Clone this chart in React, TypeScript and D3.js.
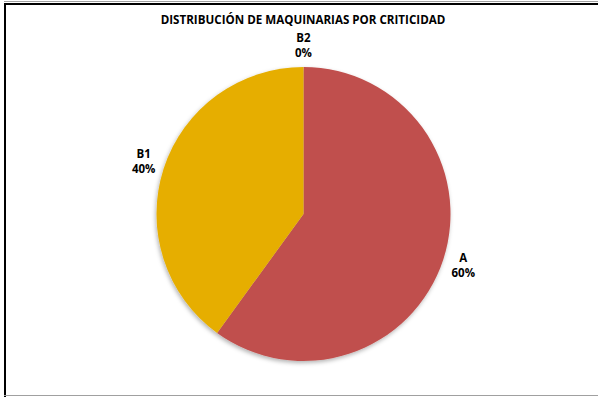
import { useEffect, useRef } from 'react';
import * as d3 from 'd3';

const categories = ['A', 'B1', 'B2'];
const values = [60, 40, 0];
const percentLabels = ['60%', '40%', '0%'];
const colors = ['#C0504D', '#E6AE00', '#9BBB59'];

const title = 'DISTRIBUCIÓN DE MAQUINARIAS POR CRITICIDAD';

export default function App() {
  const svgRef = useRef<SVGSVGElement>(null);

  useEffect(() => {
    if (!svgRef.current) return;
    const width = 598;
    const height = 397;
    const svg = d3.select(svgRef.current);
    svg.selectAll('*').remove();

    svg.append('rect').attr('width', width).attr('height', height).attr('fill', '#fff');

    // frame
    svg.append('line').attr('x1', 4).attr('x2', width).attr('y1', 1.5).attr('y2', 1.5)
      .attr('stroke', '#a0a0a0').attr('stroke-width', 1);
    svg.append('line').attr('x1', 4).attr('x2', width).attr('y1', 4).attr('y2', 4)
      .attr('stroke', '#000').attr('stroke-width', 2);
    svg.append('line').attr('x1', 5).attr('x2', 5).attr('y1', 3).attr('y2', height)
      .attr('stroke', '#000').attr('stroke-width', 2);
    svg.append('line').attr('x1', 4).attr('x2', width).attr('y1', 395.5).attr('y2', 395.5)
      .attr('stroke', '#a0a0a0').attr('stroke-width', 1);

    const defs = svg.append('defs');
    const filter = defs.append('filter').attr('id', 'pie-shadow')
      .attr('x', '-10%').attr('y', '-10%').attr('width', '120%').attr('height', '120%');
    filter.append('feDropShadow').attr('dx', -1).attr('dy', 2).attr('stdDeviation', 2)
      .attr('flood-color', '#000').attr('flood-opacity', 0.3);

    const font = 'Open Sans, Liberation Sans, sans-serif';

    svg.append('text')
      .attr('x', 303).attr('y', 24)
      .attr('text-anchor', 'middle')
      .attr('font-family', font)
      .attr('font-size', '11.6px').attr('font-weight', 700)
      .attr('fill', '#000')
      .text(title);

    const cx = 303.5;
    const cy = 214;
    const radius = 147;

    const pie = d3.pie<number>().sort(null).value(d => d);
    const arcs = pie(values);
    const arc = d3.arc<d3.PieArcDatum<number>>().innerRadius(0).outerRadius(radius);
    const labelArc = d3.arc<d3.PieArcDatum<number>>().innerRadius(168).outerRadius(168);

    const g = svg.append('g').attr('transform', `translate(${cx},${cy})`);
    g.append('g').attr('filter', 'url(#pie-shadow)')
      .selectAll('path')
      .data(arcs)
      .join('path')
      .attr('d', arc)
      .attr('fill', (_, i) => colors[i]);

    const labels = g.selectAll('g.lbl')
      .data(arcs)
      .join('g')
      .attr('class', 'lbl')
      .attr('transform', d => `translate(${labelArc.centroid(d)})`);

    labels.append('text')
      .attr('text-anchor', 'middle')
      .attr('y', -4)
      .attr('font-family', font)
      .attr('font-size', '11.5px').attr('font-weight', 700)
      .attr('fill', '#000')
      .text((_, i) => categories[i]);

    labels.append('text')
      .attr('text-anchor', 'middle')
      .attr('y', 11)
      .attr('font-family', font)
      .attr('font-size', '11.5px').attr('font-weight', 700)
      .attr('fill', '#000')
      .text((_, i) => percentLabels[i]);
  }, []);

  return (
    <div style={{ position: 'fixed', left: 0, top: 0 }}>
      <svg ref={svgRef} width={598} height={397} style={{ display: 'block' }} />
    </div>
  );
}
